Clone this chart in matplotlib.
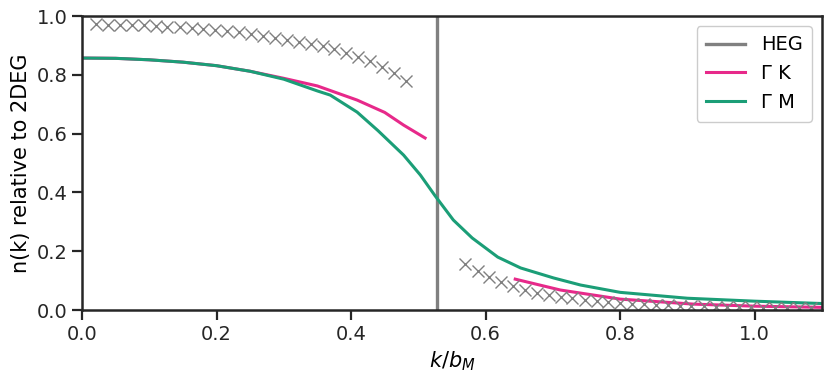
import matplotlib
matplotlib.use("Agg")
import matplotlib.pyplot as plt
import numpy as np

# --- data ---
k_fermi = 0.527

# QMC-like crosses, inside and outside the Fermi surface
cross_k_in = [0.021, 0.039, 0.057, 0.074, 0.092, 0.110, 0.127, 0.145, 0.163, 0.180,
              0.198, 0.216, 0.234, 0.251, 0.269, 0.287, 0.304, 0.322, 0.340, 0.358,
              0.375, 0.393, 0.411, 0.428, 0.446, 0.464, 0.481]
cross_n_in = [0.972, 0.971, 0.970, 0.969, 0.968, 0.966, 0.964, 0.962, 0.959, 0.956,
              0.953, 0.949, 0.944, 0.939, 0.933, 0.926, 0.919, 0.911, 0.905, 0.897,
              0.887, 0.875, 0.862, 0.847, 0.827, 0.805, 0.780]
cross_k_out = [0.570, 0.588, 0.605, 0.623, 0.641, 0.658, 0.676, 0.694, 0.712, 0.729,
               0.747, 0.765, 0.782, 0.800, 0.818, 0.836, 0.853, 0.871, 0.889, 0.906,
               0.924, 0.942, 0.959, 0.977, 0.995, 1.013, 1.030, 1.048, 1.066, 1.083]
cross_n_out = [0.157, 0.133, 0.112, 0.094, 0.080, 0.068, 0.058, 0.051, 0.045, 0.040,
               0.035, 0.031, 0.028, 0.025, 0.022, 0.020, 0.018, 0.016, 0.015, 0.013,
               0.012, 0.011, 0.010, 0.009, 0.009, 0.008, 0.007, 0.007, 0.006, 0.006]

# Gamma-K path (two pieces)
gk_k1 = [0.0, 0.05, 0.10, 0.15, 0.20, 0.25, 0.30, 0.35, 0.409, 0.45, 0.478, 0.510]
gk_n1 = [0.857, 0.856, 0.851, 0.843, 0.831, 0.812, 0.788, 0.762, 0.714, 0.672, 0.629, 0.585]
gk_k2 = [0.644, 0.711, 0.80, 0.909, 1.0, 1.1]
gk_n2 = [0.105, 0.068, 0.037, 0.020, 0.013, 0.009]

# Gamma-M path
gm_k = [0.0, 0.05, 0.10, 0.15, 0.20, 0.25, 0.30, 0.35, 0.369, 0.409, 0.44, 0.478,
        0.503, 0.525, 0.552, 0.580, 0.618, 0.652, 0.701, 0.741, 0.80, 0.90, 1.0, 1.1]
gm_n = [0.857, 0.856, 0.851, 0.843, 0.831, 0.812, 0.785, 0.745, 0.731, 0.673, 0.610, 0.527,
        0.459, 0.388, 0.306, 0.245, 0.180, 0.143, 0.109, 0.085, 0.060, 0.040, 0.030, 0.022]

grey = "#808080"
pink = "#e7298a"
green = "#1b9e77"

plt.rcParams["font.family"] = "DejaVu Sans"

fig = plt.figure(figsize=(8.31, 3.82), dpi=100)
ax = fig.add_axes([82 / 831, 72 / 382, 740 / 831, 294 / 382])

ax.axvline(k_fermi, color=grey, lw=2.4, label="HEG")
ax.plot(gk_k1, gk_n1, color=pink, lw=2.2, label="Γ K")
ax.plot(gk_k2, gk_n2, color=pink, lw=2.2)
ax.plot(gm_k, gm_n, color=green, lw=2.2, label="Γ M")
ax.plot(cross_k_in, cross_n_in, ls="none", marker="x", ms=8.6, mew=1.0, color=grey)
ax.plot(cross_k_out, cross_n_out, ls="none", marker="x", ms=8.6, mew=1.0, color=grey)

ax.set_xlim(0, 1.1)
ax.set_ylim(0, 1.0)
ax.set_xticks([0.0, 0.2, 0.4, 0.6, 0.8, 1.0])
ax.set_yticks([0.0, 0.2, 0.4, 0.6, 0.8, 1.0])
ax.set_xlabel("$k/b_M$", fontsize=15)
ax.set_ylabel("n(k) relative to 2DEG", fontsize=15)
ax.tick_params(labelsize=14, width=1.6, length=7, color="#262626", labelcolor="#262626")
for s in ax.spines.values():
    s.set_linewidth(1.8)
    s.set_color("#262626")

leg = ax.legend(loc="upper right", fontsize=14, handlelength=2.0, framealpha=1.0,
                borderpad=0.5, labelspacing=0.5)
leg.get_frame().set_edgecolor("#cccccc")

fig.savefig("out.png", dpi=100)
